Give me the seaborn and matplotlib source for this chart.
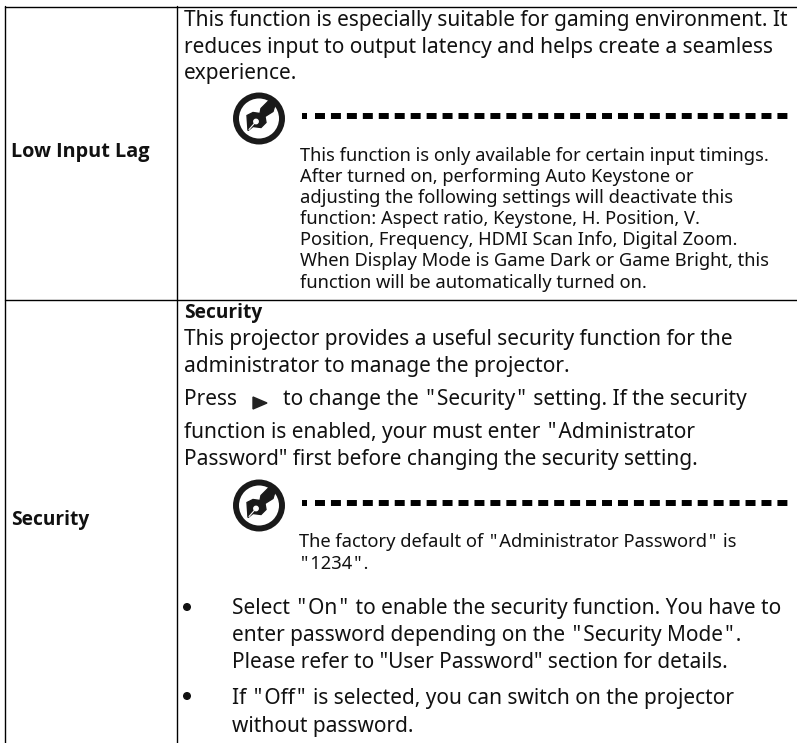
import matplotlib
matplotlib.use("Agg")
import matplotlib.pyplot as plt
from matplotlib.patches import Circle, Polygon
import seaborn as sns

sns.set_theme(style="white")
plt.rcParams["font.family"] = ["Noto Sans", "DejaVu Sans"]

# the source sets its quote marks wide, hair spaces get close to that
Q = '\u200a"\u200a'

row_labels = ["Low Input Lag", "Security"]

intro_lines = [
    "This function is especially suitable for gaming environment. It",
    "reduces input to output latency and helps create a seamless",
    "experience.",
]
note_lines = [
    "This function is only available for certain input timings.",
    "After turned on, performing Auto Keystone or",
    "adjusting the following settings will deactivate this",
    "function: Aspect ratio, Keystone, H. Position, V.",
    "Position, Frequency, HDMI Scan Info, Digital Zoom.",
    "When Display Mode is Game Dark or Game Bright, this",
    "function will be automatically turned on.",
]
security_head = "Security"
security_lines = [
    "This projector provides a useful security function for the",
    "administrator to manage the projector.",
]
press_before = "Press"
press_after = f"to change the {Q}Security{Q} setting. If the security"
security_lines2 = [
    f"function is enabled, your must enter {Q}Administrator",
    'Password" first before changing the security setting.',
]
note2_lines = [
    f"The factory default of {Q}Administrator Password{Q} is",
    f"{Q}1234{Q}.",
]
bullet_one = [
    f"Select {Q}On{Q} to enable the security function. You have to",
    f"enter password depending on the {Q}Security Mode{Q}.",
    'Please refer to "User Password" section for details.',
]
bullet_two = [
    f"If {Q}Off{Q} is selected, you can switch on the projector",
    "without password.",
]

BODY = 15.0
NOTE = 13.2
LABEL = 14.3
INK = "#111111"
ICON = "#1a1a1a"

fig = plt.figure(figsize=(7.97, 7.43), dpi=100)
ax = fig.add_axes([0, 0, 1, 1])
ax.set_xlim(0, 797)
ax.set_ylim(743, 0)
ax.axis("off")


def put_lines(lines, x, ys, size):
    for line, y in zip(lines, ys):
        ax.text(x, y, line, fontsize=size, color=INK, va="baseline")


def put_bold(text, x, y, size):
    ax.text(x, y, text, fontsize=size, color=INK, va="baseline", family="Open Sans", weight="bold")


def note_icon(cx, cy, dash_y):
    ax.add_patch(Circle((cx, cy), 23, fill=False, ec=ICON, lw=4.3))
    # pen nib and its stem
    nib = [(-11, 12), (-12, -3), (-6, -6), (1, -5), (2, -10), (11, -19), (17, -17),
           (14, -7), (6, -2), (7, 4), (2, 9), (-6, 8)]
    ax.add_patch(Polygon([(cx + dx, cy + dy) for dx, dy in nib], color=ICON))
    ax.add_patch(Circle((cx - 3, cy + 3), 2.2, color="white"))
    ax.plot([cx - 10, cx - 3], [cy + 11, cy + 3], color="white", lw=0.8)
    # dashed rule next to the icon
    ax.plot([302, 307], [dash_y, dash_y], color="black", lw=4.3, solid_capstyle="butt")
    ax.plot([315, 790], [dash_y, dash_y], color="black", lw=4.3, linestyle=(0, (1.67, 1.0)))


# table rules
for x in (5.5, 177.5):
    ax.plot([x, x], [6, 743], color="black", lw=1)
ax.plot([5, 797], [6.5, 6.5], color="black", lw=1)
ax.plot([5, 797], [300, 300], color="black", lw=1)

put_bold(row_labels[0], 11, 157, LABEL)
put_bold(row_labels[1], 11, 525, 13.8)

put_lines(intro_lines, 184, [26, 53, 79], BODY)
note_icon(259, 118.5, 116)
put_lines(note_lines, 300, [161, 182, 203, 224, 245, 266, 288], NOTE)

put_bold(security_head, 184, 318, 13.8)
put_lines(security_lines, 184, [345, 372], BODY)
ax.text(184, 405, press_before, fontsize=BODY, color=INK)
ax.add_patch(Polygon([[253, 397], [253, 409], [267, 403]], color="#222222"))
ax.text(283, 405, press_after, fontsize=BODY, color=INK)
put_lines(security_lines2, 184, [438, 465], BODY)
note_icon(259, 505.5, 503)
put_lines(note2_lines, 299, [547, 569], NOTE)

ax.add_patch(Circle((187, 607), 3.3, color=INK))
put_lines(bullet_one, 232, [614, 641, 668], BODY)
ax.add_patch(Circle((187, 696), 3.3, color=INK))
put_lines(bullet_two, 232, [704, 732], BODY)

fig.savefig("out.png", dpi=100)
